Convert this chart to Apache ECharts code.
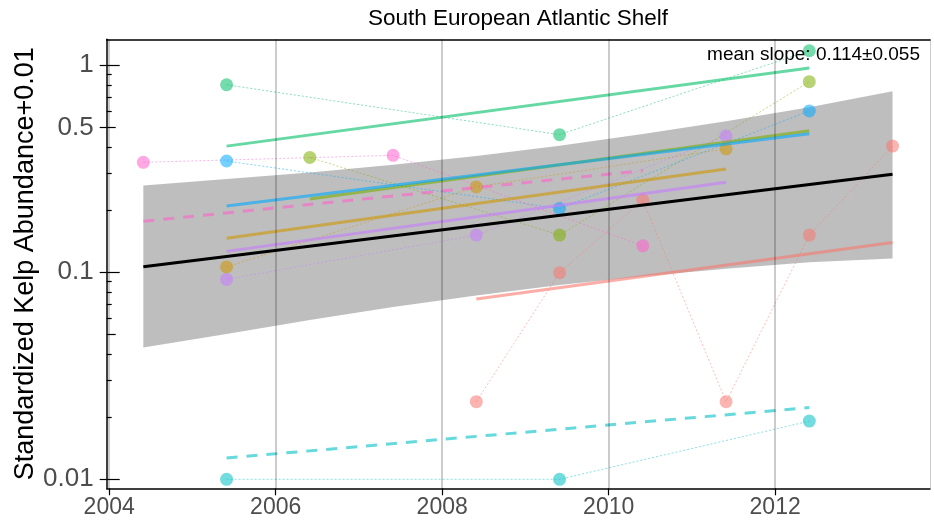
<!DOCTYPE html>
<html><head><meta charset="utf-8">
<script src="https://cdn.jsdelivr.net/npm/echarts@6/dist/echarts.min.js"></script>
<style>html,body{margin:0;padding:0;background:#fff}#c{width:934px;height:527px}</style>
</head><body><div id="c"></div>
<script>
// ---------- text ----------
const titleText = 'South European Atlantic Shelf';
const yName = 'Standardized Kelp Abundance+0.01';
const slopeText = 'mean slope: 0.114\u00b10.055';

// ---------- ticks ----------
const xTicks = [2004, 2006, 2008, 2010, 2012];
const yLabelTicks = [0.01, 0.1, 0.5, 1];
const yMajorTicks = [0.01, 0.1, 1];
const yMidTicks = [0.05, 0.5];
const yMinorTicks = [0.02, 0.03, 0.04, 0.06, 0.07, 0.08, 0.09, 0.2, 0.3, 0.4, 0.6, 0.7, 0.8, 0.9];

// ---------- site series (points) ----------
const redYears = [2008.41, 2009.41, 2010.41, 2011.41, 2012.41, 2013.41];
const redVals = [0.0237, 0.0994, 0.223, 0.0237, 0.151, 0.406];
const goldYears = [2005.41, 2008.41, 2011.41];
const goldVals = [0.106, 0.258, 0.394];
const oliveYears = [2006.41, 2009.41, 2012.41];
const oliveVals = [0.358, 0.151, 0.831];
const greenYears = [2005.41, 2009.41, 2012.41];
const greenVals = [0.803, 0.461, 1.172];
const cyanYears = [2005.41, 2009.41, 2012.41];
const cyanVals = [0.01, 0.01, 0.0191];
const blueYears = [2005.41, 2009.41, 2012.41];
const blueVals = [0.344, 0.203, 0.600];
const purpleYears = [2005.41, 2008.41, 2011.41];
const purpleVals = [0.0923, 0.151, 0.454];
const pinkYears = [2004.41, 2007.41, 2010.41];
const pinkVals = [0.339, 0.3665, 0.134];

// ---------- per-site fitted lines (start, end values) ----------
const redFit = [0.0742, 0.139];
const goldFit = [0.1457, 0.315];
const oliveFit = [0.2256, 0.482];
const greenFit = [0.406, 0.967];
const cyanFit = [0.01267, 0.0222];
const blueFit = [0.2086, 0.466];
const purpleFit = [0.126, 0.2715];
const pinkFit = [0.176, 0.309];

// ---------- mean trend and confidence band ----------
const meanYears = [2004.41, 2013.41];
const meanVals = [0.1063, 0.2968];
const bandYears = [2004.41, 2005.41, 2006.41, 2007.41, 2008.41, 2009.41, 2010.41, 2011.41, 2012.41, 2013.41];
const bandUpper = [0.262, 0.282, 0.303, 0.330, 0.364, 0.408, 0.464, 0.536, 0.626, 0.747];
const bandLower = [0.0433, 0.0503, 0.0588, 0.0679, 0.0772, 0.0866, 0.0956, 0.104, 0.1116, 0.1164];

const FONT = 'Liberation Sans, Arial, Helvetica, sans-serif';

const groups = [
  {c:'#F8766D', yrs:redYears, vals:redVals, fit:redFit, dash:false},
  {c:'#CD9600', yrs:goldYears, vals:goldVals, fit:goldFit, dash:false},
  {c:'#7CAE00', yrs:oliveYears, vals:oliveVals, fit:oliveFit, dash:false},
  {c:'#00BE67', yrs:greenYears, vals:greenVals, fit:greenFit, dash:false},
  {c:'#00BFC4', yrs:cyanYears, vals:cyanVals, fit:cyanFit, dash:true},
  {c:'#00A9FF', yrs:blueYears, vals:blueVals, fit:blueFit, dash:false},
  {c:'#C77CFF', yrs:purpleYears, vals:purpleVals, fit:purpleFit, dash:false},
  {c:'#FF61CC', yrs:pinkYears, vals:pinkVals, fit:pinkFit, dash:true}
];

const series = [];
series.push({
  type:'custom', name:'band', xAxisIndex:0, yAxisIndex:0, z:1, silent:true,
  data: bandYears.map((y,i)=>[y, bandLower[i], bandUpper[i]]),
  encode:{x:0, y:[1,2]},
  renderItem: function(params, api){
    if (params.dataIndex !== 0) return null;
    const pts = [];
    for (let i=0;i<bandYears.length;i++) pts.push(api.coord([bandYears[i], bandUpper[i]]));
    for (let i=bandYears.length-1;i>=0;i--) pts.push(api.coord([bandYears[i], bandLower[i]]));
    return {type:'polygon', shape:{points:pts}, style:{fill:'rgba(0,0,0,0.255)'}};
  },
  markLine:{
    silent:true, symbol:['none','none'], label:{show:false},
    lineStyle:{color:'rgba(0,0,0,0.2)', width:2, type:'solid'},
    data: xTicks.map(x=>({xAxis:x}))
  }
});
groups.forEach(g=>{
  series.push({
    type:'line', z:3, data:g.yrs.map((y,i)=>[y,g.vals[i]]),
    symbol:'circle', symbolSize:13, showSymbol:true,
    itemStyle:{color:g.c, opacity:0.55},
    lineStyle:{color:g.c, width:0.8, type:[2,2], opacity:0.6},
    silent:true, animation:false
  });
});
groups.forEach(g=>{
  const y0 = g.yrs[0], y1 = g.yrs[g.yrs.length-1];
  series.push({
    type:'line', z:4, data:[[y0,g.fit[0]],[y1,g.fit[1]]],
    symbol:'none',
    lineStyle:{color:g.c, width:3, opacity:0.6, type: g.dash ? [11,9] : 'solid', cap:'butt'},
    silent:true, animation:false
  });
});
series.push({
  type:'line', z:5, data: meanYears.map((y,i)=>[y, meanVals[i]]),
  symbol:'none', lineStyle:{color:'#000', width:3},
  silent:true, animation:false
});

const fmtY = v => String(+(+v).toPrecision(3));
const hidden = {show:false};
function tickAxis(vals, len){
  return {type:'log', logBase:10, min:0.00905, max:1.331, position:'left',
    axisLine:{show:false}, splitLine:hidden, axisLabel:{show:false},
    axisTick:{show:true, inside:true, length:len, customValues:vals, lineStyle:{color:'#000', width:1.2}}};
}

const option = {
  animation:false,
  backgroundColor:'#fff',
  grid:{left:106.7, right:4, top:39.3, bottom:38.7, containLabel:false, outerBoundsMode:'none'},
  xAxis:[
    {type:'value', min:2003.97, max:2013.86, position:'bottom',
     axisLine:{show:true, onZero:false, lineStyle:{color:'#000', width:1.5}},
     axisTick:{show:true, length:7, customValues:xTicks, lineStyle:{color:'#000', width:1.2}},
     axisLabel:{show:true, customValues:xTicks, formatter:v=>String(Math.round(v)), color:'#4d4d4d', fontSize:23, fontFamily:FONT, margin:8},
     splitLine:hidden},
    {type:'value', min:2003.97, max:2013.86, position:'top',
     axisLine:{show:true, onZero:false, lineStyle:{color:'#000', width:1.5}},
     axisTick:hidden, axisLabel:hidden, splitLine:hidden}
  ],
  yAxis:[
    {type:'log', logBase:10, min:0.00905, max:1.331, position:'left',
     axisLine:{show:true, onZero:false, lineStyle:{color:'#000', width:1.5}},
     axisTick:{show:true, length:7, customValues:yLabelTicks, lineStyle:{color:'#000', width:1.2}},
     axisLabel:{show:true, customValues:yLabelTicks, formatter:fmtY, color:'#4d4d4d', fontSize:26, fontFamily:FONT, margin:13},
     splitLine:hidden,
     name:yName, nameLocation:'middle', nameGap:68, nameRotate:90, nameMoveOverlap:false,
     nameTextStyle:{color:'#000', fontSize:27, fontFamily:FONT}},
    tickAxis(yMajorTicks, 13),
    tickAxis(yMidTicks, 9),
    tickAxis(yMinorTicks, 5),
    {type:'log', logBase:10, min:0.00905, max:1.331, position:'right',
     axisLine:{show:true, onZero:false, lineStyle:{color:'#cccccc', width:1}},
     axisTick:hidden, axisLabel:hidden, splitLine:hidden}
  ],
  graphic:[
    {type:'text', x:518, y:19, style:{text:titleText, fill:'#000', fontSize:22.5, fontFamily:FONT, textAlign:'center', textVerticalAlign:'middle'}},
    {type:'text', x:920, y:55, z:100, style:{text:slopeText, fill:'#000', fontSize:19, fontFamily:FONT, textAlign:'right', textVerticalAlign:'middle'}}
  ],
  series: series
};
const chart = echarts.init(document.getElementById('c'), null, {renderer:'canvas'});
chart.setOption(option);
</script>
</body></html>
